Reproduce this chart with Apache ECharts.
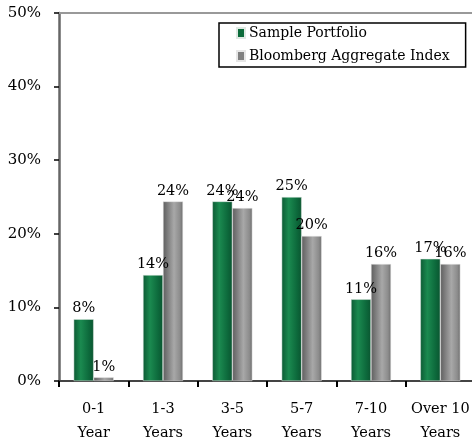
<!DOCTYPE html>
<html>
<head>
<meta charset="utf-8">
<script src="https://cdn.jsdelivr.net/npm/echarts@6/dist/echarts.min.js"></script>
<style>
  html, body { margin: 0; padding: 0; background: #fff; }
  #chart { width: 472px; height: 441px; }
</style>
</head>
<body>
<div id="chart"></div>
<script>
// Maturity buckets
const categories = ['0-1\nYear', '1-3\nYears', '3-5\nYears', '5-7\nYears', '7-10\nYears', 'Over 10\nYears'];
// Allocation by maturity, percent of portfolio
const portfolioValues = [8.4, 14.4, 24.4, 25.0, 11.1, 16.6];
const indexValues = [0.5, 24.4, 23.5, 19.7, 15.9, 15.9];
const seriesNames = ['Sample Portfolio', 'Bloomberg Aggregate Index'];
const yTicks = [0, 10, 20, 30, 40, 50];

const FONT = 'DejaVu Serif';

const greenFill = new echarts.graphic.LinearGradient(0, 0, 1, 0, [
  { offset: 0, color: '#0c5a34' },
  { offset: 0.35, color: '#1b8a50' },
  { offset: 0.75, color: '#0d6a3c' },
  { offset: 1, color: '#0a5530' }
]);
const grayFill = new echarts.graphic.LinearGradient(0, 0, 1, 0, [
  { offset: 0, color: '#5e5e5e' },
  { offset: 0.55, color: '#a8a8a8' },
  { offset: 0.85, color: '#8c8c8c' },
  { offset: 1, color: '#6e6e6e' }
]);

const labelCfg = {
  show: true,
  position: 'top',
  distance: 3,
  color: '#000',
  fontFamily: FONT,
  fontSize: 14.5,
  formatter: p => Math.round(p.value) + '%'
};

const chart = echarts.init(document.getElementById('chart'), null, { renderer: 'canvas' });
chart.setOption({
  animation: false,
  backgroundColor: '#fff',
  grid: { left: 59, top: 13, width: 416, height: 368, containLabel: false, outerBoundsMode: 'none' },
  legend: {
    orient: 'vertical',
    left: 219,
    top: 23,
    padding: [3, 16, 4, 17],
    itemGap: 9,
    itemWidth: 8,
    itemHeight: 10,
    icon: 'rect',
    borderColor: '#000',
    borderWidth: 1.5,
    textStyle: { fontFamily: FONT, fontSize: 14, color: '#000', lineHeight: 14, padding: [0, 0, 0, -1] },
    data: [
      { name: seriesNames[0], itemStyle: { color: '#0b6b3a' } },
      { name: seriesNames[1], itemStyle: { color: '#808080' } }
    ]
  },
  xAxis: [
    {
      type: 'category',
      data: categories,
      axisLine: { show: true, lineStyle: { color: '#444', width: 2 } },
      axisTick: { show: true, interval: 0, alignWithLabel: false, length: 6, lineStyle: { color: '#000', width: 2 } },
      axisLabel: { interval: 0, color: '#000', fontFamily: FONT, fontSize: 14.5, lineHeight: 24, margin: 16 }
    },
    {
      type: 'category',
      position: 'top',
      data: categories,
      axisLine: { show: true, lineStyle: { color: '#999', width: 2 } },
      axisTick: { show: false },
      axisLabel: { show: false }
    }
  ],
  yAxis: {
    type: 'value',
    min: yTicks[0],
    max: yTicks[yTicks.length - 1],
    interval: 10,
    axisLine: { show: true, lineStyle: { color: '#666', width: 2.5 } },
    axisTick: { show: true, length: 5, lineStyle: { color: '#000', width: 1.5 } },
    splitLine: { show: false },
    axisLabel: { color: '#000', fontFamily: FONT, fontSize: 15, margin: 18, formatter: v => v + '%' }
  },
  series: [
    {
      name: seriesNames[0],
      type: 'bar',
      data: portfolioValues,
      barWidth: 20,
      barGap: '0%',
      itemStyle: { color: greenFill, borderColor: '#dfe9e3', borderWidth: 0.5 },
      label: labelCfg
    },
    {
      name: seriesNames[1],
      type: 'bar',
      data: indexValues,
      barWidth: 20,
      barGap: '0%',
      itemStyle: { color: grayFill, borderColor: '#e6e6e6', borderWidth: 0.5 },
      label: labelCfg
    }
  ]
});
</script>
</body>
</html>
